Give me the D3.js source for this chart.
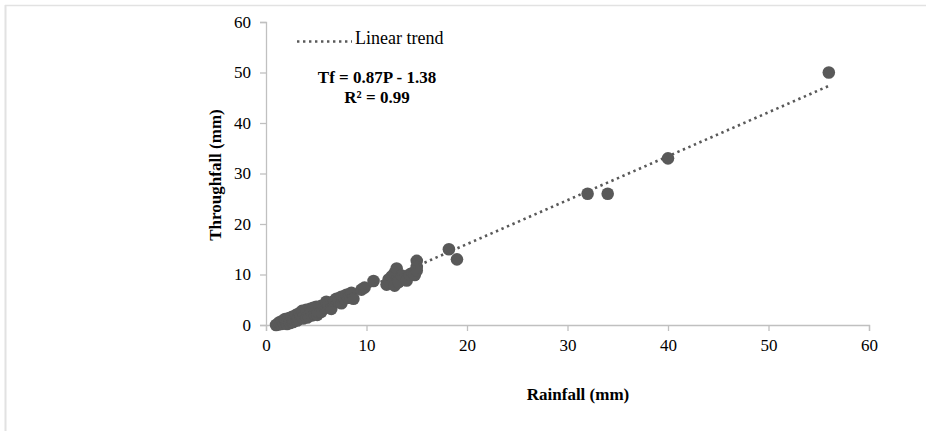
<!DOCTYPE html>
<html>
<head>
<meta charset="utf-8">
<script src="https://cdn.jsdelivr.net/npm/d3@7"></script>
<style>
  html, body { margin: 0; padding: 0; background: #fff; }
  svg { display: block; }
  text { font-family: "Liberation Serif", "Times New Roman", serif; fill: #000; }
</style>
</head>
<body>
<svg id="chart" width="926" height="431"></svg>
<script>
// Event rainfall (mm) and matching throughfall (mm)
const rainfall = [
  1.0, 1.2, 1.3, 1.5, 1.6, 1.8, 1.9, 2.0, 2.0, 2.1, 2.2, 2.3, 2.4, 2.5, 2.6,
  2.7, 2.8, 3.0, 3.0, 3.1, 3.2, 3.3, 3.4, 3.5, 3.6, 3.7, 3.8, 4.0, 4.0, 4.1,
  4.2, 4.4, 4.5, 4.6, 4.7, 4.8, 5.0, 5.0, 5.1, 5.2, 5.5, 5.5, 5.8, 6.0, 6.2,
  6.5, 6.5, 6.8, 7.0, 7.2, 7.5, 7.5, 7.8, 8.0, 8.2, 8.5, 8.7, 9.5, 9.8, 10.7,
  12.0, 12.2, 12.5, 12.8, 12.8, 13.0, 13.2, 13.5, 14.0, 14.3, 14.6, 14.8, 15.0,
  15.0, 15.0, 18.2, 19.0, 32.0, 34.0, 40.0, 56.0
];
const throughfall = [
  0.0, 0.1, 0.5, 0.2, 0.8, 0.3, 1.2, 0.5, 1.0, 0.2, 0.6, 1.4, 0.4, 0.8, 1.6,
  0.6, 1.0, 1.5, 2.0, 0.9, 1.2, 2.3, 2.2, 1.8, 2.8, 1.3, 2.0, 2.5, 3.0, 1.5,
  1.8, 3.2, 2.6, 1.9, 3.4, 2.2, 3.0, 3.6, 2.0, 2.6, 3.8, 2.6, 3.5, 4.6, 4.2,
  3.8, 3.2, 4.8, 5.2, 4.6, 5.6, 4.3, 5.2, 6.0, 5.4, 6.4, 5.2, 7.0, 7.4, 8.7,
  8.0, 9.0, 9.6, 7.8, 10.3, 11.2, 8.5, 9.8, 8.8, 10.0, 10.3, 9.9, 10.8,
  12.7, 11.5, 15.0, 13.0, 26.0, 26.0, 33.0, 50.0
];
const xTicks = [0, 10, 20, 30, 40, 50, 60];
const yTicks = [0, 10, 20, 30, 40, 50, 60];
// Fitted regression Tf = slope * P + intercept
const slope = 0.87, intercept = -1.38;
const trendRange = [1, 56];
const equationLines = ["Tf = 0.87P - 1.38", "R\u00b2 = 0.99"];

const svg = d3.select("#chart");
const markColor = "#595959";
const axisColor = "#c0c0c0";
const serif = '"Liberation Serif", "Times New Roman", serif';

// frame lines
svg.append("line").attr("x1", 5).attr("x2", 926).attr("y1", 5.5).attr("y2", 5.5)
  .attr("stroke", "#e2e2e2").attr("stroke-width", 1.5);
svg.append("line").attr("x1", 5.5).attr("x2", 5.5).attr("y1", 5).attr("y2", 431)
  .attr("stroke", "#e2e2e2").attr("stroke-width", 2);

const x = d3.scaleLinear().domain([0, 60]).range([266, 869]);
const y = d3.scaleLinear().domain([0, 60]).range([325, 22]);

// axes
const xAxis = svg.append("g").attr("transform", "translate(0,325)")
  .call(d3.axisBottom(x).tickValues(xTicks).tickSize(6).tickPadding(8));
const yAxis = svg.append("g").attr("transform", "translate(266,0)")
  .call(d3.axisLeft(y).tickValues(yTicks).tickSize(6).tickPadding(9));
[xAxis, yAxis].forEach(g => {
  g.attr("font-family", null).attr("font-size", null);
  g.select(".domain").attr("stroke", axisColor).attr("stroke-width", 1.3);
  g.selectAll(".tick line").attr("stroke", axisColor).attr("stroke-width", 1.3);
  g.selectAll(".tick text").style("font-size", "17px")
    .style("font-family", serif).attr("fill", "#000");
});

// points
const pts = rainfall.map((r, i) => ({ r, t: throughfall[i] }));
svg.append("g").selectAll("circle").data(pts).join("circle")
  .attr("cx", d => x(d.r)).attr("cy", d => y(d.t)).attr("r", 6.3)
  .attr("fill", markColor);

// trend line
svg.append("line")
  .attr("x1", x(trendRange[0])).attr("y1", y(slope * trendRange[0] + intercept))
  .attr("x2", x(trendRange[1])).attr("y2", y(slope * trendRange[1] + intercept))
  .attr("stroke", markColor).attr("stroke-width", 2.6)
  .attr("stroke-dasharray", "2.4,3.6");

// legend
svg.append("line").attr("x1", 297).attr("x2", 352).attr("y1", 41.5).attr("y2", 41.5)
  .attr("stroke", markColor).attr("stroke-width", 2.6).attr("stroke-dasharray", "2.4,3.6");
svg.append("text").attr("x", 355).attr("y", 44).style("font-size", "18px").text("Linear trend");

// equation
svg.append("g").selectAll("text").data(equationLines).join("text")
  .attr("x", 377).attr("y", (d, i) => 83 + i * 20)
  .attr("text-anchor", "middle").style("font-size", "17px").style("font-weight", "bold")
  .text(d => d);

// axis titles
svg.append("text").attr("x", 578).attr("y", 400).attr("text-anchor", "middle")
  .style("font-size", "17px").style("font-weight", "bold").text("Rainfall (mm)");
svg.append("text").attr("transform", "translate(221,175) rotate(-90)")
  .attr("text-anchor", "middle").style("font-size", "17px").style("font-weight", "bold")
  .text("Throughfall (mm)");
</script>
</body>
</html>
